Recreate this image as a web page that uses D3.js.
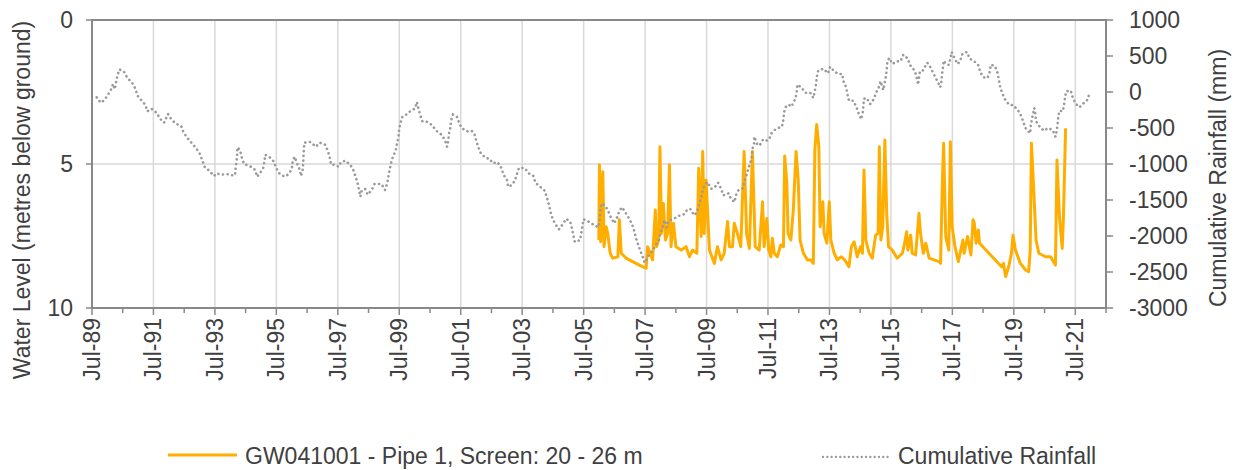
<!DOCTYPE html>
<html><head><meta charset="utf-8">
<script src="https://cdn.jsdelivr.net/npm/d3@7"></script>
<style>
body{margin:0;background:#fff}
svg{display:block}
text{font-family:"Liberation Sans",Arial,sans-serif;fill:#404040}
</style>
</head><body>
<svg id="chart" width="1235" height="470"></svg>
<script>
// ---- data (decimal years) ----
const rainYears = [1989.65,1989.78,1989.87,1990.00,1990.11,1990.18,1990.24,1990.28,1990.32,1990.39,
1990.54,1990.65,1990.80,1990.91,1990.97,1991.10,1991.23,1991.30,1991.43,1991.60,
1991.71,1991.84,1991.97,1992.08,1992.21,1992.40,1992.47,1992.60,1992.75,1992.88,
1993.01,1993.08,1993.16,1993.31,1993.47,1993.55,1993.70,1993.88,1994.05,1994.15,
1994.17,1994.20,1994.22,1994.23,1994.31,1994.37,1994.44,1994.63,1994.81,1994.87,
1994.96,1995.07,1995.11,1995.13,1995.28,1995.41,1995.48,1995.59,1995.76,1995.87,
1996.00,1996.02,1996.09,1996.17,1996.26,1996.30,1996.35,1996.37,1996.39,1996.41,
1996.61,1996.78,1996.91,1997.08,1997.17,1997.23,1997.28,1997.41,1997.52,1997.60,
1997.75,1997.91,1998.01,1998.08,1998.14,1998.19,1998.23,1998.27,1998.38,1998.47,
1998.60,1998.69,1998.80,1998.92,1999.03,1999.10,1999.14,1999.18,1999.23,1999.29,
1999.38,1999.42,1999.47,1999.49,1999.53,1999.60,1999.75,1999.90,2000.01,2000.07,
2000.12,2000.18,2000.25,2000.42,2000.57,2000.70,2000.87,2000.98,2001.05,2001.09,
2001.11,2001.16,2001.18,2001.24,2001.37,2001.44,2001.52,2001.72,2001.85,2001.94,
2002.00,2002.07,2002.15,2002.31,2002.43,2002.54,2002.69,2002.82,2002.89,2003.00,
2003.04,2003.15,2003.26,2003.32,2003.39,2003.58,2003.71,2003.86,2003.93,2004.08,
2004.23,2004.30,2004.36,2004.41,2004.47,2004.56,2004.69,2004.82,2004.93,2005.06,
2005.12,2005.16,2005.21,2005.38,2005.42,2005.45,2005.49,2005.64,2005.82,2005.97,
2006.01,2006.03,2006.05,2006.10,2006.20,2006.29,2006.38,2006.49,2006.59,2006.66,
2006.75,2006.86,2006.98,2007.07,2007.14,2007.20,2007.27,2007.35,2007.42,2007.48,
2007.55,2007.64,2007.77,2007.85,2007.94,2008.00,2008.07,2008.13,2008.20,2008.26,
2008.44,2008.57,2008.67,2008.78,2008.87,2008.98,2009.09,2009.17,2009.24,2009.30,
2009.35,2009.41,2009.52,2009.65,2009.76,2009.87,2009.97,2010.04,2010.21,2010.30,
2010.41,2010.45,2010.54,2010.69,2010.73,2010.80,2010.86,2010.93,2010.97,2010.98,
2011.04,2011.05,2011.15,2011.23,2011.34,2011.47,2011.54,2011.61,2011.76,2011.95,
2012.00,2012.02,2012.09,2012.17,2012.26,2012.32,2012.39,2012.43,2012.45,2012.58,
2012.71,2012.87,2012.97,2013.02,2013.06,2013.08,2013.13,2013.30,2013.45,2013.52,
2013.65,2013.78,2013.91,2013.95,2014.04,2014.08,2014.13,2014.27,2014.38,2014.45,
2014.53,2014.58,2014.60,2014.62,2014.71,2014.82,2014.92,2015.01,2015.10,2015.16,
2015.25,2015.29,2015.34,2015.36,2015.38,2015.44,2015.55,2015.68,2015.81,2015.90,
2016.05,2016.12,2016.20,2016.29,2016.35,2016.38,2016.44,2016.53,2016.68,2016.77,
2016.90,2017.00,2017.10,2017.14,2017.16,2017.19,2017.21,2017.32,2017.38,2017.43,
2017.47,2017.56,2017.67,2017.75,2017.82,2017.97,2018.06,2018.21,2018.34,2018.40,
2018.51,2018.64,2018.71,2018.75,2018.88,2018.97,2019.01,2019.05,2019.12,2019.21,
2019.34,2019.49,2019.64,2019.75,2019.81,2019.90,2020.03,2020.05,2020.09,2020.14,
2020.16,2020.20,2020.22,2020.35,2020.48,2020.61,2020.76,2020.85,2020.89,2020.92,
2020.94,2020.98,2021.09,2021.13,2021.16,2021.20,2021.35,2021.41,2021.50,2021.63,
2021.76,2021.91,2021.96];

const rainValues = [-74,-149,-121,-51,28,111,38,135,222,315,
278,194,129,46,-46,-111,-176,-268,-232,-288,
-371,-426,-306,-379,-435,-472,-556,-639,-713,-778,
-861,-944,-1038,-1093,-1167,-1129,-1149,-1139,-1157,-1157,
-1056,-963,-861,-768,-806,-907,-1000,-1028,-1083,-1176,
-1129,-1056,-963,-871,-907,-963,-1046,-1129,-1176,-1149,
-1074,-982,-899,-990,-1083,-1167,-1083,-990,-796,-704,
-694,-760,-704,-732,-815,-907,-1010,-1010,-1038,-972,
-954,-1018,-1093,-1185,-1268,-1371,-1454,-1379,-1343,-1426,
-1361,-1278,-1278,-1278,-1361,-1278,-1185,-1083,-990,-899,
-815,-722,-629,-528,-435,-343,-306,-250,-232,-139,
-232,-324,-407,-417,-463,-538,-593,-667,-760,-676,
-583,-490,-399,-315,-343,-426,-500,-546,-538,-583,
-676,-768,-851,-917,-926,-990,-972,-1056,-1149,-1222,
-1315,-1296,-1232,-1149,-1056,-1056,-1129,-1167,-1260,-1315,
-1371,-1463,-1556,-1649,-1740,-1824,-1907,-1833,-1760,-1806,
-1899,-1990,-2083,-2056,-1963,-1871,-1768,-1796,-1843,-1879,
-1788,-1694,-1593,-1546,-1583,-1649,-1740,-1824,-1740,-1649,
-1601,-1676,-1760,-1833,-1926,-2028,-2121,-2213,-2288,-2371,
-2324,-2250,-2185,-2121,-2056,-1963,-1871,-1778,-1879,-1788,
-1760,-1722,-1713,-1694,-1629,-1629,-1713,-1676,-1593,-1500,
-1407,-1315,-1250,-1343,-1324,-1260,-1343,-1435,-1407,-1490,
-1528,-1435,-1361,-1333,-1240,-1149,-1056,-972,-899,-806,
-713,-621,-732,-740,-657,-676,-649,-574,-510,-482,
-379,-278,-194,-176,-204,-149,-93,0,101,65,
-10,-10,-83,18,111,204,296,324,260,351,
287,250,250,149,65,-28,-121,-121,-213,-306,
-379,-288,-185,-93,-83,-167,-111,-18,65,149,
28,121,232,324,417,472,389,426,426,518,
463,371,343,268,176,101,287,296,407,351,
240,157,65,149,250,343,435,379,379,463,
556,472,389,435,528,556,463,426,371,278,
204,194,278,379,361,260,167,74,-18,-101,
-176,-185,-260,-343,-426,-518,-574,-472,-371,-268,
-222,-315,-407,-490,-538,-500,-528,-621,-538,-444,
-351,-260,-268,-176,-83,10,18,-74,-157,-213,
-157,-101,-10];

const levelYears = [2005.99,2006.01,2006.05,2006.12,2006.16,2006.23,2006.28,2006.36,2006.44,2006.61,
2006.66,2006.72,2006.88,2007.09,2007.31,2007.53,2007.58,2007.66,2007.74,2007.83,
2007.87,2007.94,2007.98,2008.03,2008.09,2008.16,2008.23,2008.29,2008.34,2008.42,
2008.50,2008.67,2008.83,2008.94,2009.04,2009.18,2009.24,2009.32,2009.37,2009.42,
2009.48,2009.59,2009.75,2009.85,2009.97,2010.07,2010.18,2010.24,2010.34,2010.40,
2010.50,2010.61,2010.72,2010.80,2010.89,2010.99,2011.08,2011.21,2011.32,2011.37,
2011.46,2011.52,2011.59,2011.64,2011.70,2011.80,2011.91,2012.00,2012.04,2012.11,
2012.15,2012.24,2012.32,2012.41,2012.48,2012.54,2012.65,2012.78,2012.89,2012.97,
2013.02,2013.08,2013.15,2013.19,2013.28,2013.32,2013.41,2013.49,2013.54,2013.65,
2013.75,2013.88,2013.99,2014.13,2014.21,2014.30,2014.40,2014.51,2014.57,2014.62,
2014.68,2014.79,2014.89,2015.00,2015.08,2015.12,2015.17,2015.23,2015.30,2015.36,
2015.42,2015.54,2015.70,2015.87,2015.92,2016.01,2016.05,2016.14,2016.19,2016.30,
2016.41,2016.46,2016.55,2016.63,2016.74,2016.90,2017.06,2017.11,2017.17,2017.21,
2017.28,2017.38,2017.43,2017.49,2017.58,2017.69,2017.77,2017.84,2017.88,2017.99,
2018.10,2018.17,2018.21,2018.27,2018.34,2018.38,2019.10,2019.16,2019.23,2019.33,
2019.42,2019.47,2019.55,2019.71,2019.88,2019.98,2020.03,2020.07,2020.14,2020.22,
2020.31,2020.53,2020.69,2020.85,2020.90,2020.98,2021.07,2021.11,2021.18];

const levelValues = [7.64,5.03,7.70,5.27,7.87,7.18,7.41,8.10,8.27,8.22,
6.94,8.10,8.27,8.39,8.51,8.62,7.87,8.10,8.33,6.60,
7.87,7.64,4.40,7.41,6.36,7.64,7.41,5.03,7.87,7.06,
7.87,7.99,7.87,8.22,7.99,8.10,5.15,7.52,4.57,7.41,
5.56,7.99,8.45,7.87,8.33,8.10,7.00,7.87,7.87,7.06,
7.41,7.87,4.57,7.41,7.93,4.57,7.87,7.99,6.31,7.87,
6.89,7.99,8.22,7.58,8.10,8.22,7.81,7.87,4.72,5.67,
7.41,7.64,6.60,4.57,5.56,7.64,8.10,8.33,8.33,8.45,
4.51,3.63,4.40,7.18,6.31,7.41,7.75,6.31,7.64,8.10,
8.33,8.22,8.33,8.57,7.87,7.70,8.22,7.87,8.10,5.21,
7.64,8.10,8.27,7.47,7.41,4.40,7.64,7.18,4.17,6.71,
7.87,7.99,8.27,8.10,7.87,7.35,7.99,7.47,8.10,8.16,
6.71,7.41,8.10,7.75,8.27,8.33,8.39,8.45,5.67,4.28,
7.52,7.99,4.23,7.18,7.87,8.39,7.99,7.64,8.10,7.52,
8.16,6.94,7.06,7.75,7.29,7.75,8.57,8.45,8.91,8.57,
8.10,7.47,7.99,8.45,8.68,8.74,7.99,4.28,5.79,7.64,
8.10,8.22,8.22,8.51,4.86,6.83,7.93,6.83,3.76];

const leftTicks = [0, 5, 10];
const rightTicks = [1000, 500, 0, -500, -1000, -1500, -2000, -2500, -3000];
const tickYears = d3.range(1989, 2023);           // July of each year
const seriesNames = ["GW041001 - Pipe 1, Screen: 20 - 26 m", "Cumulative Rainfall"];
const axisTitles = ["Water Level (metres below ground)", "Cumulative Rainfall (mm)"];

// ---- helpers ----
function yearToDate(y){
  const yr = Math.floor(y);
  const a = new Date(yr,0,1), b = new Date(yr+1,0,1);
  return new Date(a.getTime() + (y-yr)*(b-a));
}

// ---- layout ----
const L = 92, R = 1106, T = 20, B = 308;
const svg = d3.select("#chart");
const FS = 23;
const ORANGE = "#FFAE00", GREY = "#9a9a9a";

const x = d3.scaleTime().domain([new Date(1989,6,1), new Date(2022,6,1)]).range([L, R]);
const yL = d3.scaleLinear().domain([0, 10]).range([T, B]);
const yR = d3.scaleLinear().domain([1000, -3000]).range([T, B]);

const tickDates = tickYears.map(y => new Date(y,6,1));
const majorDates = tickDates.filter((d,i) => i % 2 === 0 && d.getFullYear() <= 2021);
const fmt = d3.timeFormat("%b-%y");

// gridlines
const grid = svg.append("g");
grid.selectAll("line.v").data(majorDates.slice(1)).join("line")
  .attr("x1", d=>x(d)).attr("x2", d=>x(d)).attr("y1", T).attr("y2", B)
  .attr("stroke", "#d9d9d9").attr("stroke-width", 1.5);
grid.selectAll("line.h").data(leftTicks.slice(1,-1)).join("line")
  .attr("x1", L).attr("x2", R).attr("y1", d=>yL(d)).attr("y2", d=>yL(d))
  .attr("stroke", "#d9d9d9").attr("stroke-width", 1.5);

// series
const levelData = levelYears.map((y,i)=>({d:yearToDate(y), v:levelValues[i]}));
const rainData = rainYears.map((y,i)=>({d:yearToDate(y), v:rainValues[i]}));

svg.append("path").datum(levelData)
  .attr("fill","none").attr("stroke",ORANGE).attr("stroke-width",3)
  .attr("stroke-linejoin","round")
  .attr("d", d3.line().x(p=>x(p.d)).y(p=>yL(p.v)));

svg.append("path").datum(rainData)
  .attr("fill","none").attr("stroke",GREY).attr("stroke-width",2.6)
  .attr("stroke-linecap","round").attr("stroke-dasharray","0.1 4.6")
  .attr("d", d3.line().x(p=>x(p.d)).y(p=>yR(p.v)));

// frame
const axc = "#898989";
svg.append("rect").attr("x",L).attr("y",T).attr("width",R-L).attr("height",B-T)
  .attr("fill","none").attr("stroke",axc).attr("stroke-width",2);

// x axis ticks
const gx = svg.append("g");
gx.selectAll("line").data(tickDates).join("line")
  .attr("x1", d=>x(d)).attr("x2", d=>x(d)).attr("y1", B)
  .attr("y2", (d,i)=> B + (i%2===0 ? 7 : 5))
  .attr("stroke", axc).attr("stroke-width", 1.5);
gx.selectAll("text").data(majorDates).join("text")
  .attr("transform", d=>`translate(${x(d)+8},${B+10}) rotate(-90)`)
  .attr("text-anchor","end").attr("font-size",FS)
  .text(d=>fmt(d));

// left axis
const gl = svg.append("g");
gl.selectAll("line").data(leftTicks).join("line")
  .attr("x1", L-6).attr("x2", L).attr("y1", d=>yL(d)).attr("y2", d=>yL(d))
  .attr("stroke", axc).attr("stroke-width", 1.5);
gl.selectAll("text").data(leftTicks).join("text")
  .attr("x", 73).attr("y", d=>yL(d)+8).attr("text-anchor","end").attr("font-size",FS)
  .text(d=>d);

// right axis
const gr = svg.append("g");
gr.selectAll("line").data(rightTicks).join("line")
  .attr("x1", R).attr("x2", R+7).attr("y1", d=>yR(d)).attr("y2", d=>yR(d))
  .attr("stroke", axc).attr("stroke-width", 1.5);
gr.selectAll("text").data(rightTicks).join("text")
  .attr("x", 1129).attr("y", d=>yR(d)+8).attr("text-anchor","start").attr("font-size",FS)
  .text(d=>d);

// axis titles
svg.append("text").attr("transform","translate(30,200) rotate(-90)")
  .attr("text-anchor","middle").attr("font-size",FS).text(axisTitles[0]);
svg.append("text").attr("transform","translate(1226,178) rotate(-90)")
  .attr("text-anchor","middle").attr("font-size",FS).text(axisTitles[1]);

// legend
const lg = svg.append("g");
lg.append("line").attr("x1",168).attr("x2",237).attr("y1",455).attr("y2",455)
  .attr("stroke",ORANGE).attr("stroke-width",3);
lg.append("text").attr("x",245).attr("y",464).attr("font-size",FS).text(seriesNames[0]);
lg.append("line").attr("x1",823).attr("x2",888).attr("y1",457).attr("y2",457)
  .attr("stroke",GREY).attr("stroke-width",2.3)
  .attr("stroke-linecap","round").attr("stroke-dasharray","0.1 4.2");
lg.append("text").attr("x",898).attr("y",464).attr("font-size",FS).text(seriesNames[1]);
</script>
</body></html>
